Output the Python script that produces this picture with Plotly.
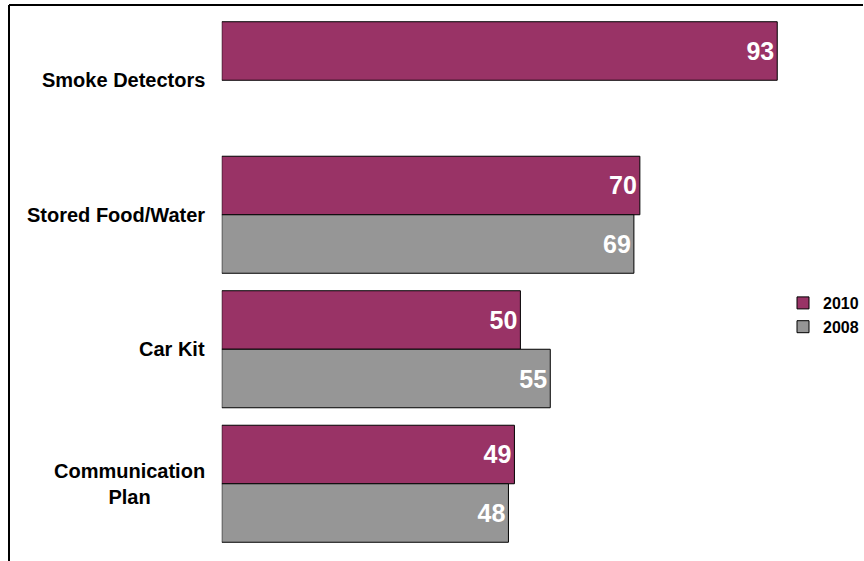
import plotly.graph_objects as go

# data
categories = ["Smoke Detectors", "Stored Food/Water", "Car Kit", "Communication Plan"]
cat_labels = ["Smoke Detectors", "Stored Food/Water", "Car Kit", "Communication<br>Plan"]
vals_2010 = [93, 70, 50, 49]
vals_2008 = [None, 69, 55, 48]

FONT = "Liberation Sans, Arial, sans-serif"

fig = go.Figure()

fig.add_trace(go.Bar(
    name="2010", y=categories, x=vals_2010, orientation="h",
    marker=dict(color="#993366", line=dict(color="#000000", width=1)),
    text=vals_2010, textposition="inside", insidetextanchor="end",
    textfont=dict(family=FONT, size=25, color="white", weight="bold"),
))
fig.add_trace(go.Bar(
    name="2008", y=categories, x=vals_2008, orientation="h",
    marker=dict(color="#969696", line=dict(color="#000000", width=1)),
    text=vals_2008, textposition="inside", insidetextanchor="end",
    textfont=dict(family=FONT, size=25, color="white", weight="bold"),
))

# category labels (centered multi-line, right anchored)
for c, lab in zip(categories, cat_labels):
    fig.add_annotation(
        x=213 / 855, xref="paper", y=c, yref="y",
        text=lab, showarrow=False, xanchor="right", yanchor="middle",
        align="center", xshift=-15,
        font=dict(family=FONT, size=20, color="#000000", weight="bold"),
    )

# frame lines top + left
fig.add_shape(type="line", xref="paper", yref="paper", x0=0, x1=1, y0=1, y1=1,
              line=dict(color="black", width=2))
fig.add_shape(type="line", xref="paper", yref="paper", x0=0, x1=0, y0=0, y1=1,
              line=dict(color="black", width=2))

fig.update_layout(
    width=864, height=561,
    margin=dict(l=9, r=0, t=5, b=0),
    paper_bgcolor="white", plot_bgcolor="white",
    barmode="group", bargap=0.13, bargroupgap=0,
    showlegend=True,
    legend=dict(
        x=(784 - 9) / 855, xanchor="left", y=(561 - 315) / 556, yanchor="middle",
        font=dict(family=FONT, size=16, color="#000000", weight="bold"),
        itemwidth=30, tracegroupgap=0, bgcolor="rgba(0,0,0,0)",
    ),
    xaxis=dict(domain=[213 / 855, 811 / 855], range=[0, 100], visible=False),
    yaxis=dict(domain=[10 / 556, 548 / 556], autorange="reversed",
               categoryorder="array", categoryarray=categories,
               showticklabels=False, showgrid=False, zeroline=False, showline=False),
)

fig.write_html("out.html", config={"displayModeBar": False},
               post_script="document.body.style.margin='0';")
